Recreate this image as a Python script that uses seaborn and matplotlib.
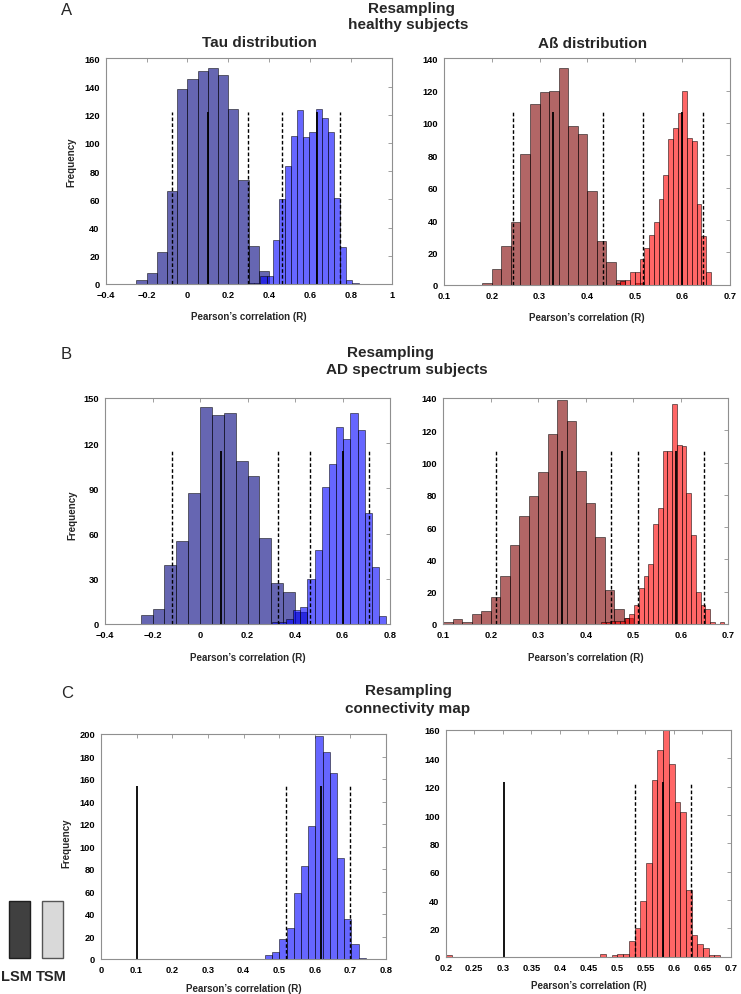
import numpy as np
import pandas as pd
import matplotlib
matplotlib.use("Agg")
import matplotlib.pyplot as plt
from matplotlib.colors import to_rgba
from matplotlib.patches import Rectangle
import seaborn as sns

# ---------------------------------------------------------------- data
# Panel A - healthy subjects, Tau distribution
a_tau_lsm_start, a_tau_lsm_width = -0.25, 0.05
a_tau_lsm_counts = [3, 8, 23, 66, 138, 145, 151, 153, 148, 124, 74, 27, 9]
a_tau_tsm_start, a_tau_tsm_width = 0.2975, 0.03
a_tau_tsm_counts = [1, 1, 6, 6, 31, 60, 84, 105, 123, 104, 108, 124, 118, 108, 61, 26, 3, 1]
a_tau_lsm_stats = [-0.075, 0.099, 0.295]      # 2.5 %, mean, 97.5 %
a_tau_tsm_stats = [0.464, 0.632, 0.747]
a_tau_line_height = 122

# Panel A - healthy subjects, Abeta distribution
a_ab_lsm_start, a_ab_lsm_width = 0.18, 0.02
a_ab_lsm_counts = [1, 10, 24, 39, 81, 112, 119, 120, 134, 98, 93, 58, 27, 14, 3, 0, 1]
a_ab_tsm_start, a_ab_tsm_width = 0.46, 0.01
a_ab_tsm_counts = [1, 2, 3, 8, 8, 16, 23, 31, 39, 53, 68, 90, 97, 106, 120, 91, 89, 50, 30, 8]
a_ab_lsm_stats = [0.245, 0.328, 0.434]
a_ab_tsm_stats = [0.518, 0.599, 0.644]
a_ab_line_height = 107

# Panel B - AD spectrum subjects, Tau
b_tau_lsm_start, b_tau_lsm_width = -0.25, 0.05
b_tau_lsm_counts = [6, 10, 39, 55, 87, 144, 139, 140, 108, 98, 57, 27, 21, 8]
b_tau_tsm_start, b_tau_tsm_width = 0.302, 0.0301
b_tau_tsm_counts = [1, 1, 3, 9, 11, 30, 49, 91, 106, 131, 123, 140, 129, 74, 38, 5]
b_tau_lsm_stats = [-0.117, 0.088, 0.330]
b_tau_tsm_stats = [0.463, 0.603, 0.712]
b_tau_line_height = 115

# Panel B - AD spectrum subjects, Abeta
b_ab_lsm_start, b_ab_lsm_width = 0.10, 0.02
b_ab_lsm_counts = [1, 3, 1, 6, 8, 17, 30, 49, 67, 79, 94, 118, 139, 126, 95, 75, 54, 21, 9, 4]
b_ab_tsm_start, b_ab_tsm_width = 0.4315, 0.01
b_ab_tsm_counts = [1, 1, 2, 2, 2, 4, 6, 12, 22, 30, 37, 62, 72, 107, 107, 136, 111, 110,
                   81, 55, 20, 12, 9, 1, 0, 1]
b_ab_lsm_stats = [0.2116, 0.3505, 0.453]
b_ab_tsm_stats = [0.5105, 0.590, 0.649]
b_ab_line_height = 107

# Panel C - connectivity map resampling (TSM) vs single LSM value
c_tau_tsm_start, c_tau_tsm_width = 0.4605, 0.0202
c_tau_tsm_counts = [4, 6, 18, 28, 59, 83, 118, 198, 184, 165, 90, 36, 13, 1]
c_tau_tsm_stats = [0.519, 0.6175, 0.699]
c_tau_lsm_value = 0.100
c_tau_line_height = 154

c_ab_tsm_start, c_ab_tsm_width = 0.201, 0.01
c_ab_tsm_counts = [1] + [0] * 26 + [2, 0, 1, 2, 2, 11, 20, 39, 66, 125, 146, 160, 136, 109,
                                    102, 47, 15, 9, 6, 1, 1]
c_ab_tsm_stats = [0.5318, 0.5814, 0.630]
c_ab_lsm_value = 0.302
c_ab_line_height = 123

# tick values / labels
tau_ab_xticks_A = [-0.4, -0.2, 0, 0.2, 0.4, 0.6, 0.8, 1.0]
tau_ab_xlabels_A = ["\u22120.4", "\u22120.2", "0", "0.2", "0.4", "0.6", "0.8", "1"]
tau_xticks_B = [-0.4, -0.2, 0, 0.2, 0.4, 0.6, 0.8]
tau_xlabels_B = ["\u22120.4", "\u22120.2", "0", "0.2", "0.4", "0.6", "0.8"]
ab_xticks = [0.1, 0.2, 0.3, 0.4, 0.5, 0.6, 0.7]
ab_xlabels = ["0.1", "0.2", "0.3", "0.4", "0.5", "0.6", "0.7"]
c_tau_xticks = [0, 0.1, 0.2, 0.3, 0.4, 0.5, 0.6, 0.7, 0.8]
c_tau_xlabels = ["0", "0.1", "0.2", "0.3", "0.4", "0.5", "0.6", "0.7", "0.8"]
c_ab_xticks = [0.2, 0.25, 0.3, 0.35, 0.4, 0.45, 0.5, 0.55, 0.6, 0.65, 0.7]
c_ab_xlabels = ["0.2", "0.25", "0.3", "0.35", "0.4", "0.45", "0.5", "0.55", "0.6", "0.65", "0.7"]
yticks_A_tau = [0, 20, 40, 60, 80, 100, 120, 140, 160]
yticks_140 = [0, 20, 40, 60, 80, 100, 120, 140]
yticks_B_tau = [0, 30, 60, 90, 120, 150]
yticks_C_tau = [0, 20, 40, 60, 80, 100, 120, 140, 160, 180, 200]
yticks_C_ab = [0, 20, 40, 60, 80, 100, 120, 140, 160]

legend_labels = ["LSM", "TSM"]

# ---------------------------------------------------------------- style
sns.set_theme(style="white")
plt.rcParams["font.family"] = ["Liberation Sans", "DejaVu Sans"]

W, H = 741, 995
fig = plt.figure(figsize=(W / 100, H / 100), dpi=100)

NAVY, BLUE = (0, 0, 0.5), (0, 0, 1)
MAROON, RED = (0.5, 0, 0), (1, 0, 0)
FRAME = "#8f8f8f"


def px_axes(x0, y0, x1, y1):
    return fig.add_axes([x0 / W, 1 - y1 / H, (x1 - x0) / W, (y1 - y0) / H])


def ftext(x, y, s, **kw):
    kw.setdefault("ha", "center")
    kw.setdefault("va", "baseline")
    fig.text(x / W, 1 - y / H, s, **kw)


def hist(ax, start, width, counts, color):
    counts = np.asarray(counts, dtype=float)
    edges = start + width * np.arange(len(counts) + 1)
    centers = 0.5 * (edges[:-1] + edges[1:])
    df = pd.DataFrame({"r": centers, "n": counts})
    sns.histplot(data=df, x="r", weights="n", bins=list(edges), ax=ax, color=color,
                 facecolor=to_rgba(color, 0.6), edgecolor=(0, 0, 0, 0.6),
                 linewidth=0.6)


def stat_lines(ax, stats, height):
    lo, mean, hi = stats
    ax.vlines([lo, hi], 0, height, colors="black", linestyles=(0, (2.6, 1.6)), linewidth=1.0)
    ax.vlines([mean], 0, height, colors="black", linestyles="-", linewidth=1.3)


def style_axes(ax, xlim, xticks, xlabels, ylim, yticks, ylabel_pos=None, xlabel_base=33):
    ax.set_xlim(*xlim)
    ax.set_ylim(*ylim)
    ax.set_xticks(xticks, xlabels, fontweight="bold")
    ax.set_yticks(yticks, [str(t) for t in yticks], fontweight="bold")
    ax.tick_params(direction="in", length=3, width=0.6, color=FRAME, labelsize=6.7,
                   pad=4.3, top=True, right=True, labelcolor="black")
    for sp in ax.spines.values():
        sp.set_color(FRAME)
        sp.set_linewidth(0.8)
    ax.grid(False)
    ax.set_xlabel("Pearson\u2019s correlation (R)", fontsize=7, fontweight="bold")
    bb = ax.get_position()
    hpx = bb.height * H
    ax.xaxis.set_label_coords(0.5, -xlabel_base / hpx)
    ax.xaxis.label.set_va("baseline")
    if ylabel_pos is not None:
        ax.set_ylabel("Frequency", fontsize=7, fontweight="bold")
        ax.yaxis.set_label_coords(*ylabel_pos)
        ax.yaxis.label.set_va("center")
    else:
        ax.set_ylabel("")


# ---------------------------------------------------------------- panel A
ax = px_axes(105.7, 59.3, 391.7, 285)
hist(ax, a_tau_lsm_start, a_tau_lsm_width, a_tau_lsm_counts, NAVY)
hist(ax, a_tau_tsm_start, a_tau_tsm_width, a_tau_tsm_counts, BLUE)
stat_lines(ax, a_tau_lsm_stats, a_tau_line_height)
stat_lines(ax, a_tau_tsm_stats, a_tau_line_height)
style_axes(ax, (-0.4, 1.0), tau_ab_xticks_A, tau_ab_xlabels_A, (0, 160), yticks_A_tau,
           ylabel_pos=(-0.119, 0.546), xlabel_base=35)

ax = px_axes(444.3, 59.3, 730, 285.7)
hist(ax, a_ab_lsm_start, a_ab_lsm_width, a_ab_lsm_counts, MAROON)
hist(ax, a_ab_tsm_start, a_ab_tsm_width, a_ab_tsm_counts, RED)
stat_lines(ax, a_ab_lsm_stats, a_ab_line_height)
stat_lines(ax, a_ab_tsm_stats, a_ab_line_height)
style_axes(ax, (0.1, 0.7), ab_xticks, ab_xlabels, (0, 140), yticks_140, xlabel_base=35)

# ---------------------------------------------------------------- panel B
ax = px_axes(105, 399, 390, 625)
hist(ax, b_tau_lsm_start, b_tau_lsm_width, b_tau_lsm_counts, NAVY)
hist(ax, b_tau_tsm_start, b_tau_tsm_width, b_tau_tsm_counts, BLUE)
stat_lines(ax, b_tau_lsm_stats, b_tau_line_height)
stat_lines(ax, b_tau_tsm_stats, b_tau_line_height)
style_axes(ax, (-0.4, 0.8), tau_xticks_B, tau_xlabels_B, (0, 150), yticks_B_tau,
           ylabel_pos=(-0.115, 0.487), xlabel_base=36)

ax = px_axes(443.3, 399, 728.3, 625)
hist(ax, b_ab_lsm_start, b_ab_lsm_width, b_ab_lsm_counts, MAROON)
hist(ax, b_ab_tsm_start, b_ab_tsm_width, b_ab_tsm_counts, RED)
stat_lines(ax, b_ab_lsm_stats, b_ab_line_height)
stat_lines(ax, b_ab_tsm_stats, b_ab_line_height)
style_axes(ax, (0.1, 0.7), ab_xticks, ab_xlabels, (0, 140), yticks_140, xlabel_base=36)

# ---------------------------------------------------------------- panel C
ax = px_axes(101, 735, 386, 960)
hist(ax, c_tau_tsm_start, c_tau_tsm_width, c_tau_tsm_counts, BLUE)
stat_lines(ax, c_tau_tsm_stats, c_tau_line_height)
ax.vlines([c_tau_lsm_value], 0, c_tau_line_height, colors="black", linewidth=1.3)
style_axes(ax, (0, 0.8), c_tau_xticks, c_tau_xlabels, (0, 200), yticks_C_tau,
           ylabel_pos=(-0.12, 0.517), xlabel_base=32)

ax = px_axes(445.7, 731, 731, 957.7)
hist(ax, c_ab_tsm_start, c_ab_tsm_width, c_ab_tsm_counts, RED)
stat_lines(ax, c_ab_tsm_stats, c_ab_line_height)
ax.vlines([c_ab_lsm_value], 0, c_ab_line_height, colors="black", linewidth=1.3)
style_axes(ax, (0.2, 0.7), c_ab_xticks, c_ab_xlabels, (0, 160), yticks_C_ab, xlabel_base=31)

# ---------------------------------------------------------------- titles
bold = dict(fontsize=11, fontweight="bold")
ftext(66.5, 15, "A", fontsize=12)
ftext(411.5, 13.3, "Resampling", **bold)
ftext(408, 29.5, "healthy subjects", **bold)
ftext(259.3, 46.7, "Tau distribution", **bold)
ftext(593, 47.5, "A\u00df distribution", **bold)

ftext(66, 359.3, "B", fontsize=12)
ftext(390, 357.3, "Resampling", **bold)
ftext(407.3, 374, "AD spectrum subjects", **bold)

ftext(66.7, 698, "C", fontsize=12)
ftext(408, 695, "Resampling", **bold)
ftext(407.5, 712.7, "connectivity map", **bold)

# ---------------------------------------------------------------- LSM / TSM key
for (x0, x1), fc, ec in [((9.3, 30), "#404040", "#1e1e1e"), ((42.3, 62.7), "#d9d9d9", "#555555")]:
    fig.patches.append(Rectangle((x0 / W, 1 - 959.3 / H), (x1 - x0) / W, (959.3 - 901.7) / H,
                                 transform=fig.transFigure, facecolor=fc, edgecolor=ec,
                                 linewidth=1.0))
ftext(16, 980.7, legend_labels[0], fontsize=10.5, fontweight="bold")
ftext(51, 980.7, legend_labels[1], fontsize=10.5, fontweight="bold")

fig.savefig("out.png", dpi=100)
